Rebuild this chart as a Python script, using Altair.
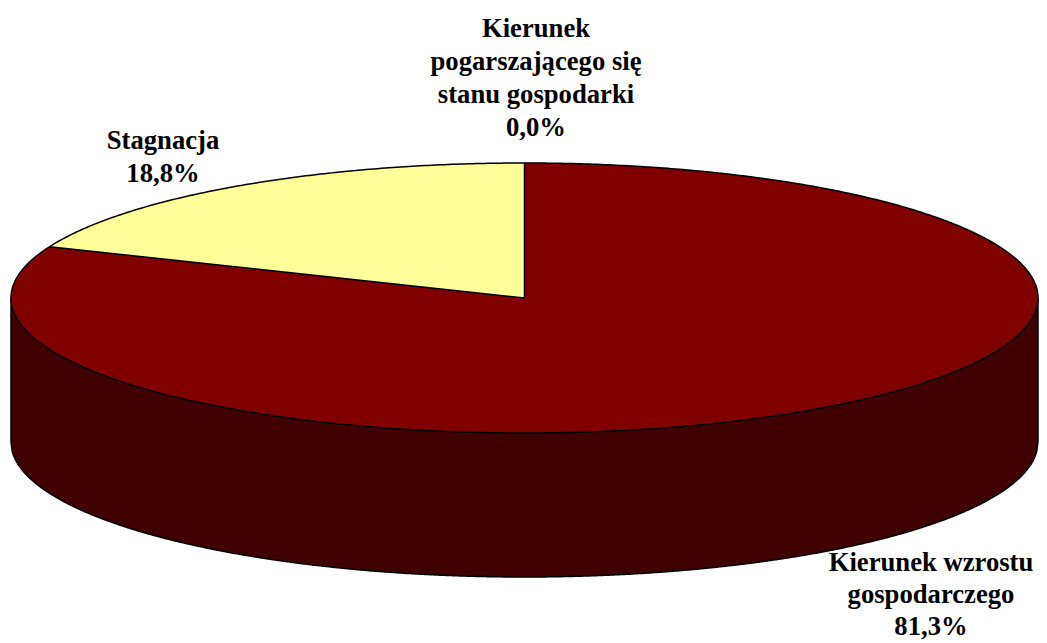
import numpy as np
import pandas as pd
import altair as alt

categories = ["Kierunek wzrostu gospodarczego", "Stagnacja", "Kierunek pogarszającego się stanu gospodarki"]
shares = [81.3, 18.8, 0.0]
labels = ["Kierunek wzrostu\ngospodarczego\n81,3%", "Stagnacja\n18,8%", "Kierunek\npogarszającego się\nstanu gospodarki\n0,0%"]

W, H = 1031, 627
CX, CY, RX, RY, DEPTH = 516.5, 290.0, 513.5, 135.0, 144.0
xs = alt.Scale(domain=[-CX / RX, (W - CX) / RX], nice=False, zero=False)
ys = alt.Scale(domain=[-(H - CY) / RY, CY / RY], nice=False, zero=False)
d = DEPTH / RY

t = np.linspace(-1, 1, 801)
top = np.sqrt(1 - t ** 2)
side = pd.DataFrame({"x": t, "y": -top, "y2": -top - d})
disc = pd.DataFrame({"x": t, "y": top, "y2": -top})

ang = shares[1] / 100 * 2 * np.pi
ex, ey = -np.sin(ang), np.cos(ang)
wx = np.linspace(ex, 0, 300)
wedge = pd.DataFrame({"x": wx, "y": np.sqrt(1 - wx ** 2), "y2": ey * wx / ex})

pa = np.linspace(0, 2 * np.pi, 801)
paths = [
    pd.DataFrame({"x": np.cos(pa), "y": np.sin(pa), "p": "rim"}),
    pd.DataFrame({"x": t, "y": -top - d, "p": "bottom"}),
    pd.DataFrame({"x": [-1, -1], "y": [0, -d], "p": "left"}),
    pd.DataFrame({"x": [1, 1], "y": [0, -d], "p": "right"}),
    pd.DataFrame({"x": [0, 0, ex], "y": [1, 0, ey], "p": "radii"}),
]
outline = pd.concat(paths, ignore_index=True)
outline["o"] = outline.index

X = alt.X("x:Q", scale=xs, axis=None)
Y = alt.Y("y:Q", scale=ys, axis=None)
Y2 = alt.Y2("y2:Q")


def area(df, color):
    return alt.Chart(df).mark_area(color=color, interpolate="linear", opacity=1, clip=False).encode(X, Y, Y2)


line = alt.Chart(outline).mark_line(color="#000000", strokeWidth=1.5, clip=False).encode(
    X, Y, detail="p:N", order="o:Q"
)


def label(text, px, py, lh=33):
    return alt.Chart(pd.DataFrame({"t": [text]})).mark_text(
        font="Liberation Serif", fontWeight="bold", fontSize=26.67, lineHeight=lh,
        lineBreak="\n", align="center", baseline="alphabetic", color="#000000",
    ).encode(x=alt.value(px), y=alt.value(py), text="t:N")


chart = alt.layer(
    area(side, "#400000"),
    area(disc, "#800000"),
    area(wedge, "#FFFF99"),
    line,
    label(labels[0], 923, 563, 32),
    label(labels[1], 155, 141),
    label(labels[2], 528, 29),
).properties(width=W, height=H, padding={"left": 0, "top": 0, "right": 0, "bottom": 7}, autosize=alt.AutoSizeParams(type="none")).configure_view(stroke=None)

chart.save("out.html", embed_options={"renderer": "svg", "actions": False})
